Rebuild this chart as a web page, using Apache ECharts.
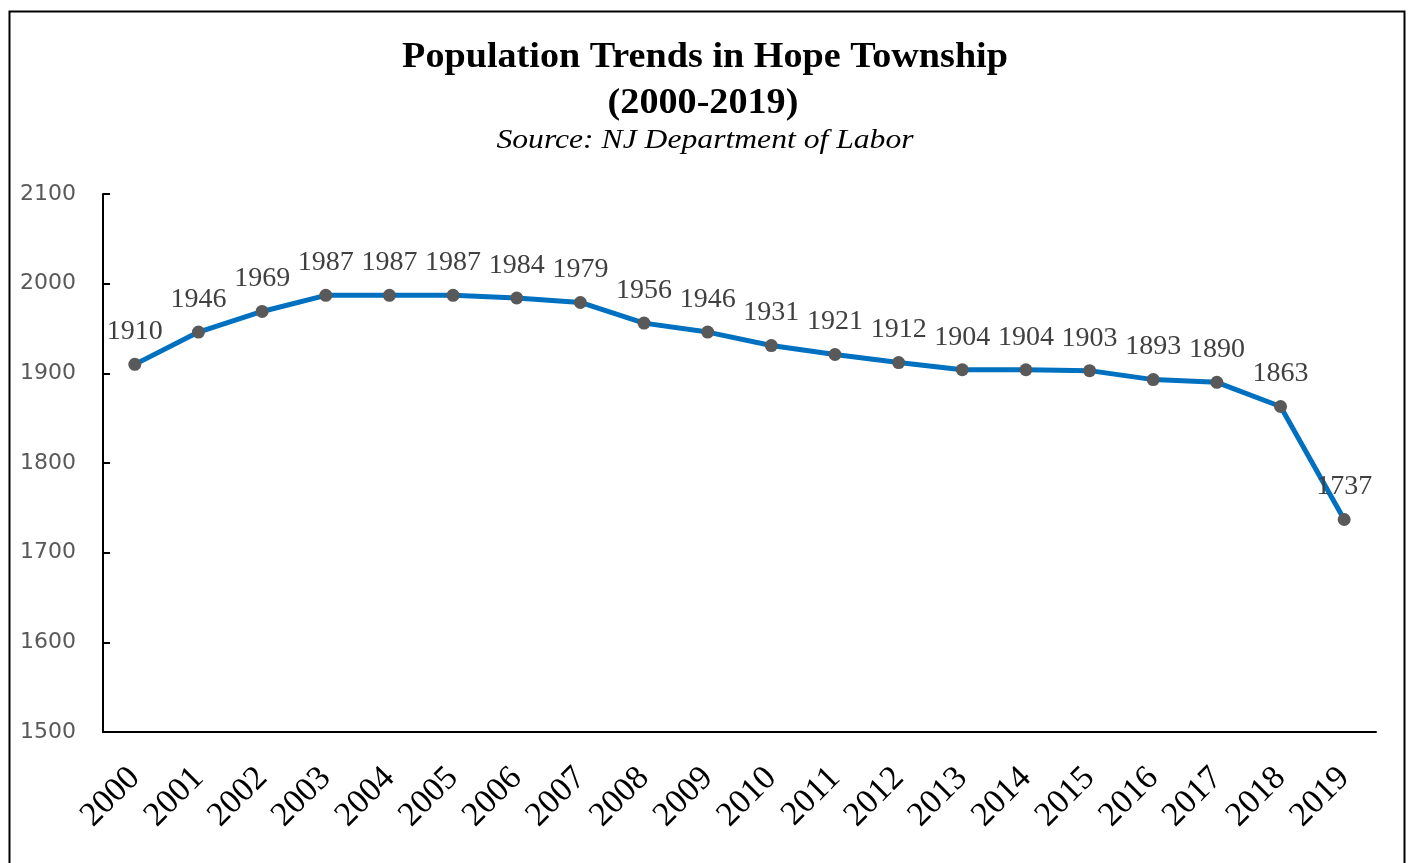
<!DOCTYPE html>
<html><head><meta charset="utf-8">
<script src="https://cdn.jsdelivr.net/npm/echarts@6/dist/echarts.min.js"></script>
<style>html,body{margin:0;padding:0;background:#fff}#c{width:1408px;height:863px}</style>
</head><body><div id="c"></div>
<script>
const years = ['2000','2001','2002','2003','2004','2005','2006','2007','2008','2009','2010','2011','2012','2013','2014','2015','2016','2017','2018','2019'];
const population = [1910,1946,1969,1987,1987,1987,1984,1979,1956,1946,1931,1921,1912,1904,1904,1903,1893,1890,1863,1737];
const yTicks = [1500,1600,1700,1800,1900,2000,2100];
const titleLines = ['Population Trends in Hope Township', '(2000-2019)'];
const subtitle = 'Source: NJ Department of Labor';

const chart = echarts.init(document.getElementById('c'));
chart.setOption({
  animation: false,
  backgroundColor: '#fff',
  graphic: [{
    type: 'rect', left: 7, top: 9, silent: true,
    shape: { x: 0, y: 0, width: 1395, height: 870 },
    style: { fill: 'none', stroke: '#000', lineWidth: 2 }
  }, {
    type: 'text', x: 705, y: 58, scaleX: 1.06, silent: true,
    style: { text: titleLines[0], align: 'center', verticalAlign: 'middle',
      font: 'bold 36px "Liberation Serif"', fill: '#000' }
  }, {
    type: 'text', x: 703, y: 104, scaleX: 1.06, silent: true,
    style: { text: titleLines[1], align: 'center', verticalAlign: 'middle',
      font: 'bold 36px "Liberation Serif"', fill: '#000' }
  }, {
    type: 'text', x: 705, y: 141, scaleX: 1.13, silent: true,
    style: { text: subtitle, align: 'center', verticalAlign: 'middle',
      font: 'italic 28px "Liberation Serif"', fill: '#000' }
  }],
  grid: { left: 103, top: 194, right: 32, bottom: 131, containLabel: false },
  xAxis: {
    type: 'category', data: years, boundaryGap: true,
    axisLine: { lineStyle: { color: '#000', width: 2 } },
    axisTick: { inside: true, alignWithLabel: true, length: 7, lineStyle: { color: '#000', width: 2 } },
    axisLabel: { rotate: 45, margin: 41, fontFamily: 'Liberation Serif', fontSize: 34, color: '#000', interval: 0 },
    splitLine: { show: false }
  },
  yAxis: {
    type: 'value', min: yTicks[0], max: yTicks[yTicks.length-1], interval: 100,
    axisLine: { show: true, lineStyle: { color: '#000', width: 2 } },
    axisTick: { show: true, inside: true, length: 7, lineStyle: { color: '#000', width: 2 } },
    axisLabel: { margin: 27, fontFamily: 'DejaVu Sans', fontSize: 22, color: '#595959', formatter: v => String(v) },
    splitLine: { show: false }
  },
  series: [{
    type: 'line', data: population,
    lineStyle: { color: '#0070C0', width: 5 },
    itemStyle: { color: '#595959' },
    symbol: 'circle', symbolSize: 13,
    label: { show: true, position: 'top', distance: 12, fontFamily: 'Liberation Serif', fontSize: 28, color: '#404040' }
  }]
});
</script></body></html>
